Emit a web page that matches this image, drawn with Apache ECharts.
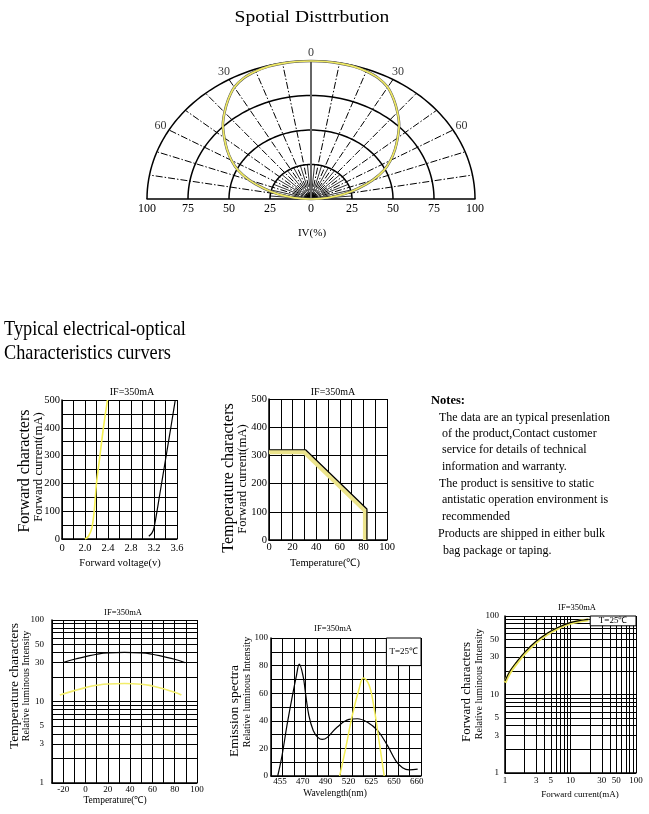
<!DOCTYPE html>
<html><head><meta charset="utf-8">
<script src="https://cdn.jsdelivr.net/npm/echarts@6/dist/echarts.min.js"></script>
<style>html,body{margin:0;padding:0;background:#fff}#c{width:649px;height:814px}</style>
</head><body><div id="c"></div>
<script>
// ---------------- DATA ----------------
// Spatial distribution (angle in degrees, relative intensity %)
const polarAngles    = [-90,-85,-80,-75,-70,-65,-60,-55,-50,-45,-40,-35,-30,-25,-20,-15,-10,-5,0,5,10,15,20,25,30,35,40,45,50,55,60,65,70,75,80,85,90];
const polarIntensity = [0,10,20.5,30,40,49,56,62.5,69,76,82,88,93.5,96.8,98.5,99.5,99.8,100,100,100,99.8,99.5,98.5,96.8,93.5,88,82,76,69,62.5,56,49,40,30,20.5,10,0];
const polarRings = [25,50,75,100];
const polarSpokes = [-80,-70,-60,-50,-40,-30,-20,-10,10,20,30,40,50,60,70,80];
const polarInnerSpokes = [-85,-75,-65,-55,-45,-35,-25,-15,-5,5,15,25,35,45,55,65,75,85];
const polarAngleLabels = [-60,-30,0,30,60];
const ivTickValues = [-100,-75,-50,-25,0,25,50,75,100];
const ivTickLabels = ['100','75','50','25','0','25','50','75','100'];

// Forward characters (voltage V, current mA)
const fwdVoltA = [2.0,2.06,2.12,2.16,2.2,2.26,2.32,2.39];
const fwdCurrA = [0,10,40,100,200,300,400,500];
const fwdVoltB = [3.11,3.16,3.2,3.3,3.4,3.5,3.57];
const fwdCurrB = [10,20,40,160,285,410,500];
const fwdVoltTickValues = [1.6,2.0,2.4,2.8,3.2,3.6];
const fwdVoltTickLabels = ['0','2.0','2.4','2.8','3.2','3.6'];
const currTickValues = [0,100,200,300,400,500];

// Temperature characters (temperature C, forward current mA)
const derTempA = [0,31,83,83];
const derCurrA = [320,320,110,0];
const derTempB = [0,30,81.5,81.5];
const derCurrB = [312,312,104,0];
const tempTickValues = [0,20,40,60,80,100];

// Temperature characters (relative luminous intensity, log)
const relTempA = [-20,-10,0,10,20,35,50,60,70,80,89];
const relLumA  = [30,33,35.5,38,39.5,40,39.5,38,35.5,33,30];
const relTempB = [-23,-10,0,10,20,35,50,60,70,80,86];
const relLumB  = [12,13.6,14.8,15.8,16.4,16.6,16.3,15.5,14.3,13,12];
const relTempTickValues = [-20,0,20,40,60,80,100];
const logTickValues = [1,3,5,10,30,50,100];
const logMinorLines = [2,3,4,5,6,7,8,9,20,30,40,50,60,70,80,90];

// Emission spectra (position along the grid, relative intensity)
const specLabels = ['455','470','490','520','625','650','660'];
const specPosA = [0.58,0.96,1.39,1.83,2.21,2.45,2.79,2.99,3.28,3.66,4.06,4.44,4.88,5.75,6.76,7.49,8.36,9.23,10.1,10.82,11.4,11.98,12.71];
const specValA = [0,15,37,57,73,81,72,60,44,33,28,26.5,28,35.5,41,41.5,39,33,22,11,6,4.5,5];
const specPosB = [5.95,6.47,7.05,7.63,8.0,8.5,8.94,9.37,9.81];
const specValB = [0,20,44,63,71,66,49,25,0];
const specTickValues = [0,20,40,60,80,100];

// Forward characters (forward current mA, relative luminous intensity)
const fcCurr  = [1,1.19,1.51,2.02,2.98,4.34,6.17,9.88,15.8,18.8];
const fcLumA  = [14.8,19.9,26.1,34.9,47.7,59.7,70.4,82.3,89,90.7];
const fcLumB  = [14.2,19,25,33.5,46,58,68.5,80.5,87.5,89.5];

// ---------------- HELPERS ----------------
const SERIF = '"Liberation Serif","Times New Roman",serif';
const deg = Math.PI/180;
const pol = (r,a) => [r*Math.sin(a*deg), r*Math.cos(a*deg)];
const zip = (a,b) => a.map((v,i)=>[v,b[i]]);
const lookup = (vals, labs) => v => { const i = vals.findIndex(t => Math.abs(t-v) < 1e-6); return i<0 ? '' : (labs ? labs[i] : String(vals[i])); };
const BLACK = '#000';
function lbl(size, fmt, margin) { return {color:BLACK, fontFamily:SERIF, fontSize:size, margin:margin, formatter:fmt}; }
const split = {show:true, lineStyle:{color:BLACK, width:1}};
const aline = {show:true, onZero:false, lineStyle:{color:BLACK, width:1.5}};
function T(text, x, y, size, o) {
  o = o || {};
  return {type:'text', x:x, y:y, rotation:o.rot||0, scaleX:o.sx||1, scaleY:1, silent:true, z:100,
    style:{text:text, fontFamily:SERIF, fontSize:size, fontWeight:o.bold?'bold':'normal', fill:BLACK,
      textAlign:o.align||'center', textVerticalAlign:'middle'}};
}
function gridLines(xi, key, vals, labeled, size, dist) {
  return {type:'line', xAxisIndex:xi, yAxisIndex:xi, data:[], z:1, silent:true,
    markLine:{silent:true, symbol:'none', animation:false, z:1,
      lineStyle:{color:BLACK, width:1, type:'solid'},
      label:{show:false},
      emphasis:{disabled:true},
      data: vals.map(v => { const d = {}; d[key] = v;
        d.label = labeled.indexOf(v) >= 0 ? {show:true, position:'start', formatter:String(v), color:BLACK, fontFamily:SERIF, fontSize:size, distance:dist} : {show:false};
        return d; })}};
}
function box(xi, x0, y0, x1, y1) {
  return {type:'line', xAxisIndex:xi, yAxisIndex:xi, data:[], z:2, silent:true,
    markArea:{silent:true, z:2, itemStyle:{color:'#fff', borderColor:BLACK, borderWidth:1},
      label:{show:true, position:'inside', color:BLACK, fontFamily:SERIF, fontSize:9},
      emphasis:{disabled:true},
      data:[[{name:'T=25\u2103', xAxis:x0, yAxis:y0}, {xAxis:x1, yAxis:y1}]]}};
}
function curve(xi, data, color, width, z, smooth) {
  return {type:'line', xAxisIndex:xi, yAxisIndex:xi, data:data, symbol:'none', smooth:smooth, z:z, silent:true,
    lineStyle:{color:color, width:width}, clip:false};
}

// arc sampling for the polar rings (geometry only)
const arcSteps = []; for (let a=-90; a<=90; a+=2) arcSteps.push(a);
const polarCurve = polarAngles.map((a,i)=>pol(polarIntensity[i], a));

// ---------------- OPTION ----------------
const option = {
  animation:false,
  backgroundColor:'#fff',
  grid:[
    {left:147, top:61, width:328, height:138},
    {left:62, top:400, width:115, height:139},
    {left:269, top:399, width:118, height:141},
    {left:52, top:620, width:145, height:163},
    {left:271, top:638, width:150, height:138},
    {left:268.6, top:638, width:159.6, height:138},
    {left:505, top:616, width:131, height:157}
  ],
  xAxis:[
    {gridIndex:0, type:'value', min:-100, max:100, interval:25, axisLine:{show:true, onZero:false, lineStyle:{color:BLACK, width:1.5}}, axisTick:{show:false}, splitLine:{show:false}, axisLabel:lbl(12, lookup(ivTickValues, ivTickLabels), 4)},
    {gridIndex:1, type:'value', min:1.6, max:3.6, interval:0.2, axisLine:aline, axisTick:{show:false}, splitLine:split, axisLabel:lbl(10.5, lookup(fwdVoltTickValues, fwdVoltTickLabels), 4)},
    {gridIndex:2, type:'value', min:0, max:100, interval:10, axisLine:aline, axisTick:{show:false}, splitLine:split, axisLabel:lbl(10.5, lookup(tempTickValues), 2)},
    {gridIndex:3, type:'value', min:-30, max:100, interval:10, axisLine:aline, axisTick:{show:false}, splitLine:split, axisLabel:lbl(9, lookup(relTempTickValues), 2)},
    {gridIndex:4, type:'value', min:0, max:13, interval:1, axisLine:aline, axisTick:{show:false}, splitLine:split, axisLabel:{show:false}},
    {gridIndex:5, type:'category', data:specLabels, boundaryGap:true, axisLine:{show:false}, axisTick:{show:false}, splitLine:{show:false}, axisLabel:lbl(9, null, 1)},
    {gridIndex:6, type:'log', logBase:10, min:1, max:100, axisLine:aline, axisTick:{show:false}, splitLine:split, axisLabel:lbl(9, lookup(logTickValues), 3)}
  ],
  yAxis:[
    {gridIndex:0, type:'value', min:0, max:100, show:false},
    {gridIndex:1, type:'value', min:0, max:500, interval:50, axisLine:aline, axisTick:{show:false}, splitLine:split, axisLabel:lbl(10.5, lookup(currTickValues), 2)},
    {gridIndex:2, type:'value', min:0, max:500, interval:100, axisLine:aline, axisTick:{show:false}, splitLine:split, axisLabel:lbl(10.5, lookup(currTickValues), 2)},
    {gridIndex:3, type:'log', logBase:10, min:1, max:100, axisLine:aline, axisTick:{show:false}, splitLine:split, axisLabel:lbl(9, lookup(logTickValues), 8)},
    {gridIndex:4, type:'value', min:0, max:100, interval:10, axisLine:aline, axisTick:{show:false}, splitLine:split, axisLabel:lbl(9, lookup(specTickValues), 3)},
    {gridIndex:5, type:'value', min:0, max:100, show:false},
    {gridIndex:6, type:'log', logBase:10, min:1, max:100, axisLine:aline, axisTick:{show:false}, splitLine:split, axisLabel:lbl(9, lookup(logTickValues), 6)}
  ],
  series:[
    // ---- polar (spatial distribution) ----
    {type:'lines', coordinateSystem:'cartesian2d', xAxisIndex:0, yAxisIndex:0, polyline:true, silent:true, clip:false, z:2,
      data: polarRings.map(r => ({coords: arcSteps.map(a => pol(r,a))})),
      lineStyle:{color:BLACK, width:1.5, opacity:1}},
    {type:'lines', coordinateSystem:'cartesian2d', xAxisIndex:0, yAxisIndex:0, silent:true, clip:false, z:2,
      data: polarSpokes.map(a => ({coords:[pol(0,a), pol(100,a)]})),
      lineStyle:{color:BLACK, width:1, type:[7,2,1.5,2], opacity:1}},
    {type:'lines', coordinateSystem:'cartesian2d', xAxisIndex:0, yAxisIndex:0, silent:true, clip:false, z:2,
      data: polarInnerSpokes.map(a => ({coords:[pol(0,a), pol(25,a)]})),
      lineStyle:{color:BLACK, width:0.8, opacity:1}},
    {type:'lines', coordinateSystem:'cartesian2d', xAxisIndex:0, yAxisIndex:0, silent:true, clip:false, z:2,
      data: [{coords:[pol(0,0), pol(100,0)]}],
      lineStyle:{color:'#666', width:2, opacity:1}},
    curve(0, polarCurve, '#555', 2.6, 3, 0.3),
    curve(0, polarCurve, '#efe963', 1.7, 4, 0.3),
    {type:'scatter', xAxisIndex:0, yAxisIndex:0, symbolSize:0, silent:true, z:5, clip:false,
      data: polarAngleLabels.map(a => pol(106,a).concat([Math.abs(a)])),
      label:{show:true, position:'inside', formatter:p=>String(p.value[2]), color:BLACK, fontFamily:SERIF, fontSize:12}},

    // ---- forward characters ----
    curve(1, zip(fwdVoltA, fwdCurrA), '#f6f150', 1.6, 3, 0.3),
    curve(1, zip(fwdVoltB, fwdCurrB), BLACK, 1.2, 3, 0.3),

    // ---- temperature characters (derating) ----
    curve(2, zip(derTempB, derCurrB), '#ece48c', 4.5, 3, false),
    curve(2, zip(derTempA, derCurrA), BLACK, 1.2, 4, false),

    // ---- temperature characters (relative luminous intensity) ----
    gridLines(3, 'yAxis', logMinorLines, [3,5,30,50], 9, 8),
    curve(3, zip(relTempA, relLumA), BLACK, 1.2, 5, 0.5),
    curve(3, zip(relTempB, relLumB), '#f2ed6a', 1.6, 5, 0.5),

    // ---- emission spectra ----
    box(4, 10, 80, 13, 100),
    curve(4, zip(specPosA, specValA), BLACK, 1.2, 5, 0.4),
    curve(4, zip(specPosB, specValB), '#f3ee55', 1.5, 5, 0.4),

    // ---- forward characters (log-log) ----
    gridLines(6, 'yAxis', logMinorLines, [3,5,30,50], 9, 6),
    gridLines(6, 'xAxis', logMinorLines, [3,5,30,50], 9, 3),
    box(6, 20, 75, 100, 100),
    curve(6, zip(fcCurr, fcLumB), '#ede65a', 3, 5, 0.4),
    curve(6, zip(fcCurr, fcLumA), BLACK, 1.1, 6, 0.4)
  ],
  graphic:{elements:[
    T('Spotial Disttrbution', 312, 18, 17, {sx:1.15}),
    T('IV(%)', 312, 233, 11),
    T('Typical electrical-optical', 4, 329, 21, {align:'left', sx:0.87}),
    T('Characteristics curvers', 4, 353, 21, {align:'left', sx:0.87}),

    T('IF=350mA', 132, 392, 10),
    T('Forward characters', 25, 471, 16, {rot:Math.PI/2}),
    T('Forward current(mA)', 39, 467, 12.7, {rot:Math.PI/2}),
    T('Forward voltage(v)', 120, 563, 10.5),

    T('IF=350mA', 333, 392, 10),
    T('Temperature characters', 229, 478, 16, {rot:Math.PI/2}),
    T('Forward current(mA)', 243, 479, 12.7, {rot:Math.PI/2}),
    T('Temperature(\u2103)', 325, 563, 10.5),

    T('Notes:', 431, 401, 12.5, {align:'left', bold:true}),
    T('The data are an typical presenlation', 439, 418, 12, {align:'left'}),
    T('of the product,Contact customer', 442, 434, 12, {align:'left'}),
    T('service for details of technical', 442, 450, 12, {align:'left'}),
    T('information and warranty.', 442, 467, 12, {align:'left'}),
    T('The product is sensitive to static', 439, 484, 12, {align:'left'}),
    T('antistatic operation environment is', 442, 500, 12, {align:'left'}),
    T('recommended', 442, 517, 12, {align:'left'}),
    T('Products are shipped in either bulk', 438, 534, 12, {align:'left'}),
    T('bag package or taping.', 443, 551, 12, {align:'left'}),

    T('IF=350mA', 123, 613, 8.5),
    T('Temperature characters', 14, 686, 13.5, {rot:Math.PI/2}),
    T('Relative luminous Intensity', 26, 686, 10, {rot:Math.PI/2}),
    T('Temperature(\u2103)', 115, 800, 9.5),

    T('IF=350mA', 333, 629, 8.5),
    T('Emission spectra', 234, 711, 13.5, {rot:Math.PI/2}),
    T('Relative luminous Intensity', 247, 692, 10, {rot:Math.PI/2}),
    T('Wavelength(nm)', 335, 793, 9.5),

    T('IF=350mA', 577, 608, 8.5),
    T('Forward characters', 467, 692, 13, {rot:Math.PI/2}),
    T('Relative luminous Intensity', 479, 684, 10, {rot:Math.PI/2}),
    T('Forward current(mA)', 580, 795, 9)
  ]}
};
const chart = echarts.init(document.getElementById('c'), null, {renderer:'canvas'});
chart.setOption(option);
</script></body></html>
